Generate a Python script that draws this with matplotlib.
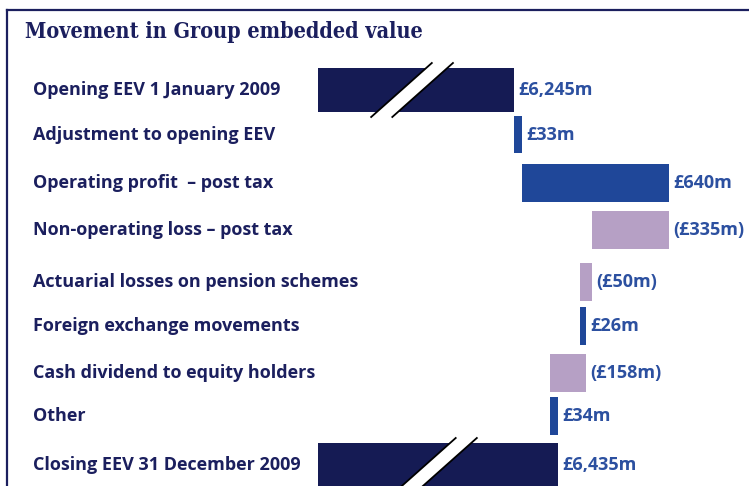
import matplotlib
matplotlib.use("Agg")
import matplotlib.pyplot as plt
from matplotlib.patches import Polygon
from matplotlib.lines import Line2D

# data (GBP m)
labels = ["Opening EEV 1 January 2009", "Adjustment to opening EEV",
          "Operating profit  \u2013 post tax", "Non-operating loss \u2013 post tax",
          "Actuarial losses on pension schemes", "Foreign exchange movements",
          "Cash dividend to equity holders", "Other", "Closing EEV 31 December 2009"]
opening = 6245
changes = [33, 640, -335, -50, 26, -158, 34]
closing = 6435
value_text = ["\u00a36,245m", "\u00a333m", "\u00a3640m", "(\u00a3335m)", "(\u00a350m)",
              "\u00a326m", "(\u00a3158m)", "\u00a334m", "\u00a36,435m"]

NAVY = "#151b54"
BLUE = "#1f4799"
LILAC = "#b6a0c5"
TXT = "#1b1f5e"
VAL = "#2c50a0"

# layout: row centres in pixels from the top
rows = [90, 134.7, 183, 230, 282, 326, 373, 416, 465]
BASE = 5392            # left edge of the broken total bars
BREAKS = [5801, 5905]  # where the break marks sit on opening / closing

fig = plt.figure(figsize=(7.49, 4.86), dpi=100)
ax = fig.add_axes([0, 0, 1, 1])
ax.set_xlim(4007, 7268)
ax.set_ylim(486, 0)
ax.axis("off")

# waterfall
cum = opening
ax.barh(rows[0], opening - BASE, left=BASE, height=44, color=NAVY)
ends = [opening]
for r, c in zip(rows[1:-1], changes):
    start, end = cum, cum + c
    ax.barh(r, c, left=start, height=37.5, color=BLUE if c > 0 else LILAC)
    ends.append(max(start, end))
    cum = end
ax.barh(rows[-1], closing - BASE, left=BASE, height=44, color=NAVY)
ends.append(closing)

# break marks
for r, c in zip([rows[0], rows[-1]], BREAKS):
    hx, hy, gap = 132, 27, 46
    poly = [(c - gap - hx, r + hy), (c + gap - hx, r + hy),
            (c + gap + hx, r - hy), (c - gap + hx, r - hy)]
    ax.add_patch(Polygon(poly, closed=True, facecolor="white", edgecolor="none", zorder=3))
    for s in (-gap, gap):
        ax.add_line(Line2D([c + s - hx, c + s + hx], [r + hy, r - hy],
                           color="black", lw=1.3, zorder=4))

for r, lab, x, vt in zip(rows, labels, ends, value_text):
    ax.text(0.044, r, lab, transform=ax.get_yaxis_transform(), ha="left", va="center",
            fontsize=13, fontweight="bold", color=TXT, family="Open Sans")
    ax.text(x + 20, r, vt, ha="left", va="center", fontsize=13,
            fontweight="bold", color=VAL, family="Open Sans")

fig.text(0.034, 0.934, "Movement in Group embedded value", ha="left", va="center",
         fontsize=15.5, fontweight="bold", color=TXT, family="DejaVu Serif",
         fontstretch="condensed")

# frame
fig.add_artist(Line2D([0.009, 1.0], [0.979, 0.979], color=TXT, lw=1.6))
fig.add_artist(Line2D([0.009, 0.009], [0.0, 0.979], color=TXT, lw=1.6))

fig.savefig("out.png", dpi=100)
